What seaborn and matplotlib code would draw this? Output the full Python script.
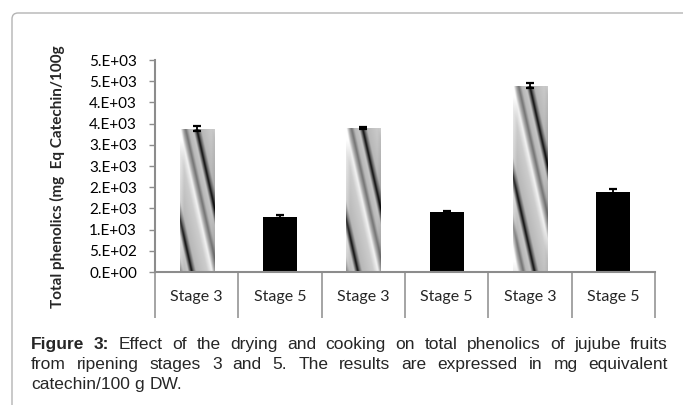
import numpy as np
import pandas as pd
import matplotlib
matplotlib.use('Agg')
import matplotlib.pyplot as plt
import seaborn as sns
from matplotlib.patches import FancyBboxPatch

# values
bar_labels = ['Stage 3', 'Stage 5', 'Stage 3', 'Stage 5', 'Stage 3', 'Stage 5']
phenolics = [3375, 1305, 3395, 1415, 4390, 1885]
errors = [60, 30, 25, 25, 60, 70]
y_ticks = [0, 500, 1000, 1500, 2000, 2500, 3000, 3500, 4000, 4500, 5000]
y_tick_labels = ['0.E+00', '5.E+02', '1.E+03', '2.E+03', '2.E+03', '3.E+03',
                 '3.E+03', '4.E+03', '4.E+03', '5.E+03', '5.E+03']
y_label = 'Total phenolics (mg  Eq Catechin/100g'
caption_lines = [
    'Figure 3: Effect of the drying and cooking on total phenolics of jujube fruits',
    'from ripening stages 3 and 5. The results are expressed in mg equivalent',
    'catechin/100 g DW.',
]

W, H = 683, 405
AX_L, AX_R, AX_T, AX_B = 155, 655, 60, 272
GRID_GRAY = '#8c8c8c'


def stripe_texture(w_px, h_px, scale=3):
    # grey "cylinder" texture that Excel puts on the stage 3 bars
    c = np.arange(int(w_px * scale)) / scale
    r = np.arange(int(h_px * scale)) / scale
    C, R = np.meshgrid(c, r)
    t = C - 16 - 0.22 * R
    p = np.mod(t, 36.0) / 36.0
    px = [0, 0.05, 0.12, 0.42, 0.55, 0.62, 0.70, 0.78, 0.90, 0.96, 1.0]
    pv = [0.05, 0.40, 0.72, 0.80, 0.95, 0.68, 0.45, 0.72, 0.78, 0.35, 0.05]
    v = np.interp(p, px, pv)
    # lighter left edge, slightly darker right edge
    v = v + 0.12 * np.clip(1 - C / 4, 0, 1) - 0.08 * np.clip((C - (w_px - 4)) / 4, 0, 1)
    return np.clip(v, 0, 1)


sns.set_theme(style='white')
plt.rcParams['font.family'] = ['Lato', 'DejaVu Sans']

df = pd.DataFrame({'bar': range(len(bar_labels)), 'stage': bar_labels, 'value': phenolics})

fig = plt.figure(figsize=(W / 100, H / 100), dpi=100)
ax = fig.add_axes([AX_L / W, 1 - AX_B / H, (AX_R - AX_L) / W, (AX_B - AX_T) / H])

sns.barplot(data=df, x='bar', y='value', hue='stage',
            palette={'Stage 3': '#c8c8c8', 'Stage 5': 'black'},
            dodge=False, width=0.41, saturation=1, linewidth=0,
            legend=False, ax=ax)

# texture on the grey bars
px_per_x = (AX_R - AX_L) / 6
px_per_y = (AX_B - AX_T) / 5000
for patch in list(ax.patches):
    fc = patch.get_facecolor()
    if fc[0] < 0.5:
        continue
    x0, y0 = patch.get_x(), patch.get_y()
    w, h = patch.get_width(), patch.get_height()
    if h <= 0:
        continue
    img = stripe_texture(w * px_per_x, h * px_per_y)
    im = ax.imshow(img, cmap='gray', vmin=0, vmax=1, aspect='auto',
                   extent=(x0, x0 + w, y0, y0 + h), origin='upper',
                   interpolation='bilinear', zorder=patch.get_zorder() + 0.1)
    im.set_clip_path(patch)

ax.errorbar(df['bar'], df['value'], yerr=errors, fmt='none', ecolor='black',
            elinewidth=1.3, capsize=3.2, capthick=1.6, zorder=5)

ax.set_xlim(-0.5, 5.5)
ax.set_ylim(0, 5000)

for side in ['top', 'right']:
    ax.spines[side].set_visible(False)
for side in ['left', 'bottom']:
    ax.spines[side].set_color(GRID_GRAY)
    ax.spines[side].set_linewidth(1.5)

ax.set_yticks(y_ticks)
ax.set_yticklabels(y_tick_labels)
ax.tick_params(axis='y', direction='out', length=4, width=1, color=GRID_GRAY,
               labelcolor='black', labelsize=11, pad=9, left=True)

ax.set_xticks(df['bar'])
ax.set_xticklabels(bar_labels)
ax.set_xticks(np.arange(-0.5, 6, 1), minor=True)
ax.tick_params(axis='x', which='major', length=0, pad=13, labelsize=11.5)
ax.tick_params(axis='x', which='minor', direction='out', length=33, width=1.1,
               color=GRID_GRAY, bottom=True)
ax.set_xlabel('')

ax.set_ylabel('')
fig.text(57 / W, 1 - 177 / H, y_label, rotation=90, ha='center', va='center',
         fontsize=11, fontweight='bold')

# rounded frame of the figure box
frame = FancyBboxPatch((12, -30), 720, H - 13 + 30,
                       boxstyle='round,pad=0,rounding_size=6',
                       transform=None, facecolor='none', edgecolor='#b4b4b4',
                       linewidth=1.0, zorder=0)
fig.add_artist(frame)

# justified caption
renderer = fig.canvas.get_renderer()
cap_left, cap_right = 31, 668
baselines = [349, 369, 389]
cap_family = ['Liberation Sans', 'DejaVu Sans']
cap_size = 12.5
for i, line in enumerate(caption_lines):
    words = line.split(' ')
    texts = []
    for j, word in enumerate(words):
        bold = (i == 0 and j < 2)
        t = fig.text(0, 1 - baselines[i] / H, word, fontsize=cap_size,
                     family=cap_family, fontweight='bold' if bold else 'normal',
                     va='baseline', ha='left')
        texts.append(t)
    widths = [t.get_window_extent(renderer).width for t in texts]
    if i < len(caption_lines) - 1:
        gap = (cap_right - cap_left - sum(widths)) / (len(words) - 1)
    else:
        gap = cap_size * 0.28 * 100 / 72
    x = cap_left
    for t, w in zip(texts, widths):
        t.set_x(x / W)
        x += w + gap

fig.savefig('out.png', dpi=100)
